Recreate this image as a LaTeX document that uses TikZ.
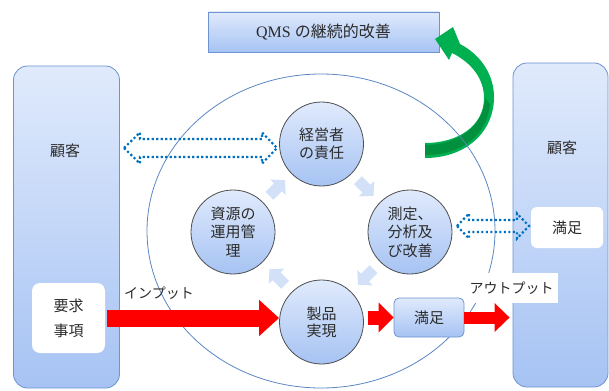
\documentclass[tikz,border=0pt]{standalone}
\usepackage{fontspec}
\newfontfamily\jp{Noto Sans CJK JP}
\newfontfamily\lser{Liberation Serif}
\usetikzlibrary{shapes.geometric,arrows.meta,calc}
\definecolor{boxtop}{HTML}{E0EAFC}
\definecolor{boxbot}{HTML}{A6C3F3}
\definecolor{boxline}{HTML}{6D93D0}
\definecolor{ringline}{HTML}{5A86C2}
\definecolor{dotblue}{HTML}{0070C0}
\definecolor{txt}{HTML}{2B2B2B}
\definecolor{grn}{HTML}{00B050}
\definecolor{dgrn}{HTML}{00903E}
\definecolor{pale}{HTML}{D2E0F8}
\definecolor{circline}{HTML}{4D4D4D}
\begin{document}
\begin{tikzpicture}[x=1pt,y=-1pt,
  every node/.style={text=txt},
  jpfont/.style={font=\jp\fontsize{15}{18.5}\selectfont},
  custbox/.style={draw=boxline, line width=0.8pt, rounded corners=14pt,
    top color=boxtop, bottom color=boxbot, inner sep=0pt},
  topbox/.style={draw=boxline, line width=0.8pt, top color=boxtop,
    bottom color=boxbot, minimum width=231, minimum height=40, inner sep=0pt},
  whitebox/.style={fill=white, rounded corners=8pt, inner sep=0pt, align=center,
    font=\jp\fontsize{15}{25}\selectfont},
  proc/.style={circle, draw=circline, line width=0.8pt, minimum size=84,
    inner sep=0pt, top color=boxtop, bottom color=boxbot, align=center,
    font=\jp\fontsize{15}{18.5}\selectfont},
  smallbox/.style={draw=boxline, line width=0.8pt, rounded corners=5pt,
    top color=boxtop, bottom color=boxbot, minimum width=70, minimum height=39,
    inner sep=0pt, font=\jp\fontsize{15}{18}\selectfont},
  lbl/.style={font=\jp\fontsize{14}{16}\selectfont, inner sep=0pt},
  dotarrow/.style={draw=dotblue, line width=2.2pt, dash pattern=on 2.2pt off 2.3pt},
  redarrow/.style={draw=red, line width=17pt, -{Triangle[length=20pt,width=35pt]}},
  blk/.pic={\fill[pale] (-11,-5.5) -- (1,-5.5) -- (1,-11) -- (11,0) -- (1,11) -- (1,5.5) -- (-11,5.5) -- cycle;}
]
\useasboundingbox (0,0) rectangle (609,390);
\clip (0,0) rectangle (609,390);

% customer boxes and top box
\node (lbox) [custbox, minimum width=106, minimum height=322] at (66.5,227) {};
\node (rbox) [custbox, minimum width=95, minimum height=324] at (560.5,225) {};
\node (lcust) [jpfont] at (65,151) {顧客};
\node (rcust) [jpfont] at (562,148) {顧客};
\node (qms) [topbox] at (323.5,32)
  {\lser\fontsize{16}{19}\selectfont QMS {\jp の継続的改善}};

% green curved arrow
\fill[grn] (435,39) -- (453,27) -- (460,44) .. controls (481,55) and (494,75) .. (494,97)
  .. controls (494,132) and (466,158) .. (425,158) -- (425,143)
  .. controls (458,143) and (484,126) .. (484,98)
  .. controls (484,79) and (472,63) .. (452,53) -- (449,60) -- cycle;
\fill[dgrn] (425,145) .. controls (458,145) and (484,126) .. (485,98) -- (490,104)
  .. controls (487,135) and (462,155) .. (425,155) -- cycle;

% big ring
\node (ring) [ellipse, draw=ringline, line width=0.8pt, minimum width=348,
  minimum height=314, inner sep=0pt] at (321,231) {};

% white boxes
\node (req) [whitebox, minimum width=73, minimum height=70] at (68.5,318) {要求\\事項};
\node (sat2) [whitebox, rounded corners=6pt, minimum width=72, minimum height=41] at (567,227.5) {満足};

% process circles
\node (mgmt) [proc] at (321.5,144) {経営者\\の責任};
\node (res)  [proc] at (233,232) {資源の\\運用管\\理};
\node (meas) [proc] at (410,232) {測定、\\分析及\\び改善};
\node (prod) [proc, font=\jp\fontsize{15}{17}\selectfont] at (321.5,322) {製品\\実現};

% pale cycle arrows
\path ($(res)!0.5!(mgmt)$) pic[rotate=45] {blk};
\path ($(mgmt)!0.5!(meas)$) pic[rotate=-45] {blk};
\path ($(meas)!0.5!(prod)$) pic[rotate=-135] {blk};
\path ($(prod)!0.5!(res)$) pic[rotate=135] {blk};

% dotted double arrows
\coordinate (dl1) at (124,148);
\coordinate (dl2) at (277,148);
\draw[dotarrow] (dl1) -- ++(16,-15.5) -- ++(0,6.5) -- ($(dl2)+(-15,-9)$) -- ++(0,-6.5)
  -- (dl2) -- ++(-15,15.5) -- ++(0,-6.5) -- ($(dl1)+(16,9)$) -- ++(0,6.5) -- cycle;
\coordinate (dr1) at (457,226);
\coordinate (dr2) at (529,226);
\draw[dotarrow] (dr1) -- ++(12,-12.5) -- ++(0,6.5) -- ($(dr2)+(-12,-6)$) -- ++(0,-6.5)
  -- (dr2) -- ++(-12,12.5) -- ++(0,-6.5) -- ($(dr1)+(12,6)$) -- ++(0,6.5) -- cycle;

% small satisfaction box
\node (sat) [smallbox] at (429,317.5) {満足};

% red arrows
\draw[redarrow] ($(req.east)+(2,0)$) -- (req.east -| prod.west);
\draw[redarrow, line width=14pt, -{Triangle[length=15pt,width=29pt]}]
  ($(prod.east |- sat.west)+(4,0)$) -- (sat.west);
\draw[redarrow, line width=12pt, -{Triangle[length=15pt,width=28pt]}]
  (sat.east) -- ($(sat.east -| rbox.west)+(-3,0)$);

% labels
\node (inlbl) [lbl, anchor=west] at (124,293) {インプット};
\node (outlbl) [lbl, fill=white, minimum width=93, minimum height=30] at (511.5,288) {アウトプット};
\end{tikzpicture}
\end{document}
